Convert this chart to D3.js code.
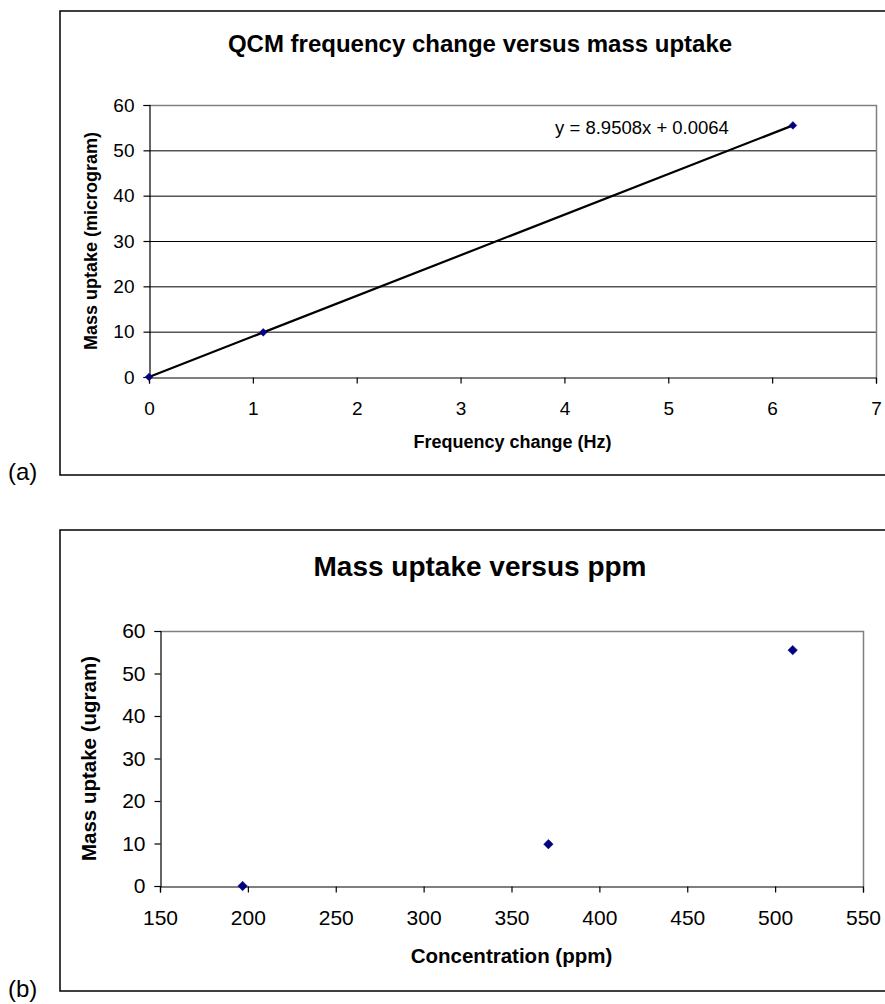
<!DOCTYPE html>
<html>
<head>
<meta charset="utf-8">
<script src="https://cdn.jsdelivr.net/npm/d3@7"></script>
<style>
  html, body { margin: 0; padding: 0; background: #fff; }
  svg { display: block; }
  text { font-family: "Liberation Sans", Arial, sans-serif; fill: #000; }
</style>
</head>
<body>
<svg id="chart" width="885" height="1004"></svg>
<script>
// ---------- Data ----------
// (a) QCM frequency change vs mass uptake
const qcmFrequency = [0, 1.1, 6.2];
const qcmMass = [0, 9.85, 55.5];
const trendSlope = 8.9508;
const trendIntercept = 0.0064;
const trendRange = [0, 6.2];
const equationText = "y = 8.9508x + 0.0064";
const aXTicks = [0, 1, 2, 3, 4, 5, 6, 7];
const aYTicks = [0, 10, 20, 30, 40, 50, 60];
const aTitle = "QCM frequency change versus mass uptake";
const aXLabel = "Frequency change (Hz)";
const aYLabel = "Mass uptake (microgram)";

// (b) Mass uptake vs ppm
const ppmConcentration = [197, 371, 510];
const ppmMass = [0, 9.85, 55.5];
const bXTicks = [150, 200, 250, 300, 350, 400, 450, 500, 550];
const bYTicks = [0, 10, 20, 30, 40, 50, 60];
const bTitle = "Mass uptake versus ppm";
const bXLabel = "Concentration (ppm)";
const bYLabel = "Mass uptake (ugram)";

const svg = d3.select("#chart");
const navy = "#000080";

function drawChart(cfg) {
  const g = svg.append("g");
  // outer frame
  g.append("rect")
    .attr("x", cfg.box.x).attr("y", cfg.box.y)
    .attr("width", cfg.box.w).attr("height", cfg.box.h)
    .attr("fill", "#fff").attr("stroke", "#000").attr("stroke-width", 1.5);

  const x = d3.scaleLinear().domain(cfg.xDomain).range([cfg.plot.l, cfg.plot.r]);
  const y = d3.scaleLinear().domain(cfg.yDomain).range([cfg.plot.b, cfg.plot.t]);

  // gridlines
  if (cfg.grid) {
    g.append("g").selectAll("line").data(cfg.yTicks.filter(v => v !== cfg.yDomain[0] && v !== cfg.yDomain[1]))
      .join("line")
      .attr("x1", cfg.plot.l).attr("x2", cfg.plot.r)
      .attr("y1", d => y(d) + 0.5).attr("y2", d => y(d) + 0.5)
      .attr("stroke", "#000").attr("stroke-width", 1);
  }
  // plot-area gray border (top & right)
  g.append("path")
    .attr("d", `M${cfg.plot.l},${cfg.plot.t + 0.5}H${cfg.plot.r + 0.5}V${cfg.plot.b}`)
    .attr("fill", "none").attr("stroke", "#808080").attr("stroke-width", 1.5);

  // axes
  const xAxis = d3.axisBottom(x).tickValues(cfg.xTicks).tickSize(6).tickPadding(cfg.xPad).tickFormat(d3.format("d"));
  const yAxis = d3.axisLeft(y).tickValues(cfg.yTicks).tickSize(6).tickPadding(cfg.yPad).tickFormat(d3.format("d"));
  const gx = g.append("g").attr("transform", `translate(0,${cfg.plot.b + 0.5})`).call(xAxis);
  const gy = g.append("g").attr("transform", `translate(${cfg.plot.l + 0.5},0)`).call(yAxis);
  [gx, gy].forEach(ax => {
    ax.select(".domain").attr("stroke", "#000").attr("stroke-width", 1.2);
    ax.selectAll(".tick line").attr("stroke", "#000").attr("stroke-width", 1.2);
    ax.selectAll("text").attr("font-size", cfg.tickFont)
      .attr("font-family", "Liberation Sans, Arial, sans-serif").attr("fill", "#000");
  });

  // trendline
  if (cfg.trend) {
    const tl = cfg.trend.range.map(v => [v, cfg.trend.slope * v + cfg.trend.intercept]);
    g.append("path")
      .attr("d", d3.line().x(d => x(d[0])).y(d => y(d[1]))(tl))
      .attr("fill", "none").attr("stroke", "#000").attr("stroke-width", 2.2);
    g.append("text")
      .attr("x", cfg.eq.x).attr("y", cfg.eq.y)
      .attr("text-anchor", "middle").attr("font-size", cfg.eq.size)
      .text(cfg.trend.text);
  }

  // markers
  const sym = d3.symbol(d3.symbolSquare, cfg.markerSize);
  g.append("g").selectAll("path").data(cfg.xs.map((v, i) => [v, cfg.ys[i]]))
    .join("path")
    .attr("d", sym)
    .attr("transform", d => `translate(${x(d[0])},${y(d[1])}) rotate(45)`)
    .attr("fill", navy).attr("stroke", navy).attr("stroke-width", 0.5);

  // titles
  g.append("text").attr("x", cfg.titleX).attr("y", cfg.titleY)
    .attr("text-anchor", "middle").attr("font-weight", "bold").attr("font-size", cfg.titleSize)
    .text(cfg.title);
  g.append("text").attr("x", (cfg.plot.l + cfg.plot.r) / 2).attr("y", cfg.xLabelY)
    .attr("text-anchor", "middle").attr("font-weight", "bold").attr("font-size", cfg.labelSize)
    .text(cfg.xLabel);
  g.append("text")
    .attr("transform", `translate(${cfg.yLabelX},${(cfg.plot.t + cfg.plot.b) / 2}) rotate(-90)`)
    .attr("text-anchor", "middle").attr("font-weight", "bold").attr("font-size", cfg.labelSize)
    .text(cfg.yLabel);

  // panel letter
  g.append("text").attr("x", cfg.letter.x).attr("y", cfg.letter.y)
    .attr("font-family", "Liberation Serif, 'Times New Roman', serif").attr("font-size", 24)
    .text(cfg.letter.text);
}

drawChart({
  box: { x: 60, y: 11, w: 840, h: 464 },
  plot: { l: 149, r: 876, t: 105, b: 377 },
  xDomain: [0, 7], yDomain: [0, 60],
  xTicks: aXTicks, yTicks: aYTicks,
  grid: true,
  xPad: 18, yPad: 9,
  tickFont: 19,
  xs: qcmFrequency, ys: qcmMass,
  markerSize: 30,
  trend: { slope: trendSlope, intercept: trendIntercept, range: trendRange, text: equationText },
  eq: { x: 642, y: 134, size: 18.5 },
  title: aTitle, titleX: 480, titleY: 52, titleSize: 24,
  xLabel: aXLabel, xLabelY: 448,
  yLabel: aYLabel, yLabelX: 97,
  labelSize: 18,
  letter: { text: "(a)", x: 8, y: 480 }
});

drawChart({
  box: { x: 60, y: 530, w: 840, h: 461 },
  plot: { l: 160, r: 863, t: 631, b: 886 },
  xDomain: [150, 550], yDomain: [0, 60],
  xTicks: bXTicks, yTicks: bYTicks,
  grid: false,
  xPad: 18, yPad: 9,
  tickFont: 21,
  xs: ppmConcentration, ys: ppmMass,
  markerSize: 45,
  trend: null,
  title: bTitle, titleX: 480, titleY: 576, titleSize: 28,
  xLabel: bXLabel, xLabelY: 963,
  yLabel: bYLabel, yLabelX: 96,
  labelSize: 20.5,
  letter: { text: "(b)", x: 8, y: 997 }
});
</script>
</body>
</html>
